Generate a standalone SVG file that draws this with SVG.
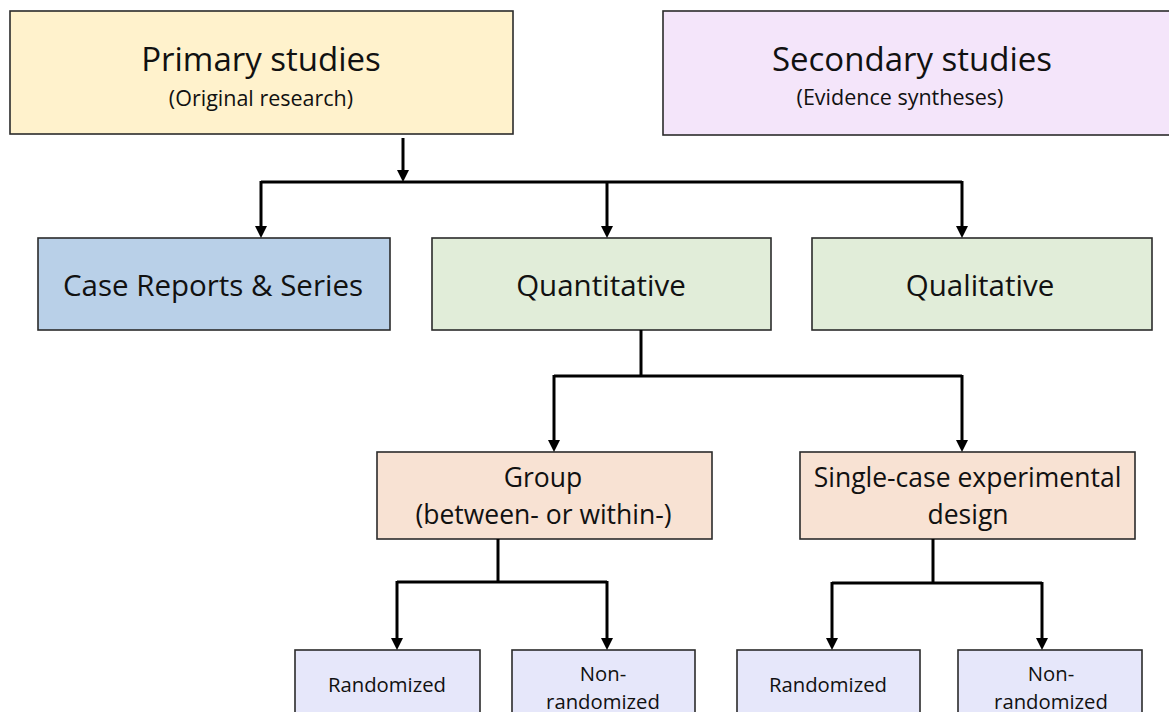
<svg xmlns="http://www.w3.org/2000/svg" width="1169" height="712" viewBox="0 0 1169 712">
<style>
.box{stroke:#2b2b2b;stroke-width:1.6}
.t{font-family:"Open Sans","Noto Sans",sans-serif;fill:#111;text-anchor:middle}
.c{fill:none;stroke:#000;stroke-width:3}
.a{stroke:#000;stroke-width:3;fill:none;marker-end:url(#ah)}
</style>
<defs>
<marker id="ah" markerUnits="userSpaceOnUse" markerWidth="14" markerHeight="14" refX="0" refY="0" viewBox="0 -7 14 14" orient="auto" overflow="visible">
<path d="M0,-6 L12,0 L0,6 z" fill="#000"/>
</marker>
</defs>
<rect width="1169" height="712" fill="#fff"/>
<g id="primary">
<rect class="box" x="10" y="11" width="503" height="123" fill="#FFF2CC"/>
<text class="t" x="261" y="71" font-size="33">Primary studies</text>
<text class="t" x="261" y="106" font-size="21.5">(Original research)</text>
</g>
<g id="secondary">
<rect class="box" x="663" y="11" width="520" height="124" fill="#F4E5FA"/>
<text class="t" x="912" y="71" font-size="33">Secondary studies</text>
<text class="t" x="900" y="105" font-size="21.5">(Evidence syntheses)</text>
</g>
<g id="case">
<rect class="box" x="38" y="238" width="352" height="92" fill="#B9D0E8"/>
<text class="t" x="213" y="296" font-size="29.5">Case Reports &amp; Series</text>
</g>
<g id="quantitative">
<rect class="box" x="432" y="238" width="339" height="92" fill="#E1EDD9"/>
<text class="t" x="601" y="296" font-size="29.5">Quantitative</text>
</g>
<g id="qualitative">
<rect class="box" x="812" y="238" width="340" height="92" fill="#E1EDD9"/>
<text class="t" x="980" y="296" font-size="29.5">Qualitative</text>
</g>
<g id="group">
<rect class="box" x="377" y="452" width="335" height="87" fill="#F8E2D3"/>
<text class="t" x="543" y="487" font-size="26.5">Group</text>
<text class="t" x="543.5" y="524" font-size="26.5">(between- or within-)</text>
</g>
<g id="single">
<rect class="box" x="800" y="452" width="335" height="87" fill="#F8E2D3"/>
<text class="t" x="967.5" y="487" font-size="26.5">Single-case experimental</text>
<text class="t" x="968" y="524" font-size="26.5">design</text>
</g>
<g id="group-randomized">
<rect class="box" x="295" y="650" width="185" height="80" fill="#E6E7FA"/>
<text class="t" x="387" y="692" font-size="20.3">Randomized</text>
</g>
<g id="group-nonrandomized">
<rect class="box" x="512" y="650" width="183" height="80" fill="#E6E7FA"/>
<text class="t" x="603" y="681" font-size="20.3">Non-</text>
<text class="t" x="603" y="709" font-size="20.3">randomized</text>
</g>
<g id="single-randomized">
<rect class="box" x="737" y="650" width="183" height="80" fill="#E6E7FA"/>
<text class="t" x="828" y="692" font-size="20.3">Randomized</text>
</g>
<g id="single-nonrandomized">
<rect class="box" x="958" y="650" width="184" height="80" fill="#E6E7FA"/>
<text class="t" x="1051" y="681" font-size="20.3">Non-</text>
<text class="t" x="1051" y="709" font-size="20.3">randomized</text>
</g>
<g id="connectors">
<path class="a" d="M403 138 V170"/>
<path class="c" d="M261 182 H962"/>
<path class="a" d="M261 181 V226"/>
<path class="a" d="M607 182 V226"/>
<path class="a" d="M962 181 V226"/>
<path class="c" d="M641 330 V376"/>
<path class="c" d="M554 376 H962"/>
<path class="a" d="M554 375 V440"/>
<path class="a" d="M962 375 V440"/>
<path class="c" d="M498 539 V582"/>
<path class="c" d="M397 582 H607"/>
<path class="a" d="M397 581 V638"/>
<path class="a" d="M607 581 V638"/>
<path class="c" d="M933 539 V583"/>
<path class="c" d="M832 583 H1042"/>
<path class="a" d="M832 582 V638"/>
<path class="a" d="M1042 582 V638"/>
</g>
</svg>
